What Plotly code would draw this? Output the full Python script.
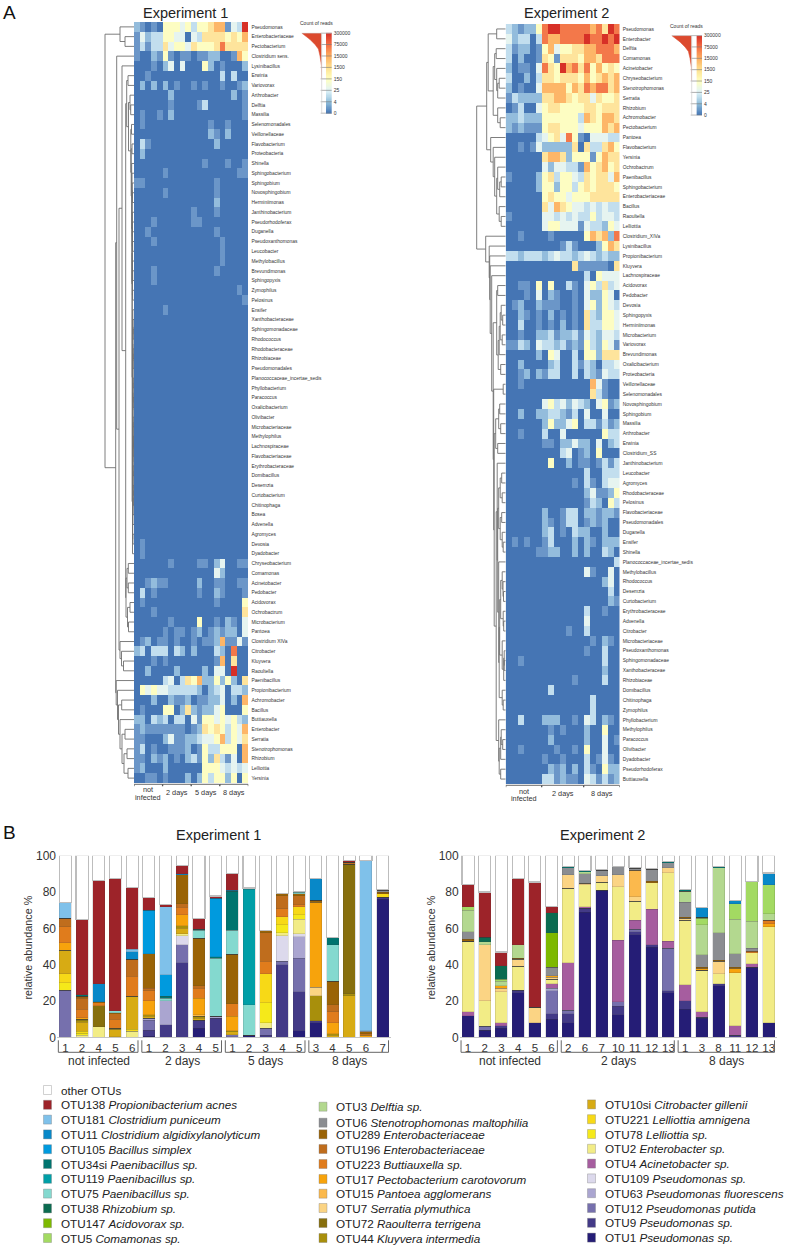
import plotly.graph_objects as go

W, H = 787, 1246
FONT = "Liberation Sans"

# ---------- heat map A: labels and colour levels (0 = no reads ... 9 = most reads) ----------
E1_LABELS = ["Pseudomonas","Enterobacteriaceae","Pectobacterium","Clostridium sens.","Lysinibacillus","Erwinia","Variovorax","Arthrobacter","Delftia","Massilia",
"Selenomonadales","Veillonellaceae","Flavobacterium","Proteobacteria","Shinella","Sphingobacterium","Sphingobium","Novosphingobium","Herminiimonas","Janthinobacterium",
"Pseudorhodoferax","Duganella","Pseudoxanthomonas","Leucobacter","Methylobacillus","Brevundimonas","Sphingopyxis","Zymophilus","Pelosinus","Ensifer",
"Xanthobacteraceae","Sphingomonadaceae","Rhodococcus","Rhodobacteraceae","Rhizobiaceae","Pseudomonadales","Planococcaceae_incertae_sedis","Phyllobacterium","Paracoccus","Oxalicibacterium",
"Olivibacter","Microbacteriaceae","Methylophilus","Lachnospiraceae","Flavobacteriaceae","Erythrobacteraceae","Domibacillus","Desemzia","Curtobacterium","Chitinophaga",
"Bosea","Advenella","Agromyces","Devosia","Dyadobacter","Chryseobacterium","Comamonas","Acinetobacter","Pedobacter","Acidovorax",
"Ochrobactrum","Microbacterium","Pantoea","Clostridium XIVa","Citrobacter","Kluyvera","Raoultella","Paenibacillus","Propionibacterium","Achromobacter",
"Bacillus","Buttiauxella","Enterobacter","Serratia","Stenotrophomonas","Rhizobium","Lelliottia","Yersinia"]

E1_LEVELS = ["21010 55545 35567 71439","14233 55440 43666 65657","13133 64554 65556 86666","10021 51011 01122 00175","00010 24040 00520 10002",
"00100 00000 00000 30300","02020 20100 10100 10012","00000 02000 00000 00201","00000 01000 01300 00001","01001 02000 00000 00001",
"01000 00000 00010 01000","00000 00000 00021 02000","03100 00000 00002 00000","02000 00000 00000 00000","00000 00000 00100 01001",
"00000 10000 00000 00011","11000 00000 00001 00000","00000 10000 00001 00000","00000 00000 00002 00000","00000 00000 10001 00000",
"00010 00000 11000 00000","00100 00000 00001 00000","00010 00000 00000 10000","00000 00000 00000 10000","00000 00000 00000 10000",
"00010 00000 00001 00000","00010 00000 00000 00000","00000 00000 00000 00010","00000 00000 00000 00001","00000 10000 00000 00000",
"00000 00000 00000 00000","00000 00000 00000 00000","00000 00000 00000 00000","00000 00000 00000 00000","00000 00000 00000 00000",
"00000 00000 00000 00000","00000 00000 00000 00000","00000 00000 00000 00000","00000 00000 00000 00000","00000 00000 00000 00000",
"00000 00000 00000 00000","00000 00000 00000 00000","00000 00000 00000 00000","00000 00000 00000 00000","00000 00000 00000 00000",
"00000 00000 00000 00000","00000 00000 00000 00000","00000 00000 00000 00000","00000 00000 00000 00000","00000 00000 00000 00000",
"00000 00000 00000 00000","00000 00000 00000 00000","00000 00000 00000 00000","01000 00000 00000 00000","01000 00000 00000 00000",
"00000 01000 01102 40011","00000 00000 00004 20000","00121 10000 02001 10011","03010 00000 01002 10001","01000 00000 00001 00005",
"00010 00000 00000 00006","00000 01000 05001 02104","00000 10110 12012 12204","01201 10100 10112 71141","23033 30320 20003 20800",
"00010 10000 00001 70600","00200 00200 00204 40900","00000 34036 57225 25206","05454 43333 32023 40332","00020 02112 01122 40207",
"01000 55026 21224 50005","22032 30330 41554 54532","12111 11110 12656 53547","11000 24112 23445 73546","13010 01112 01533 55507",
"11021 20102 31526 31407","12000 20000 00555 43434","00110 10002 02535 52505"]

E2_LABELS = ["Pseudomonas","Enterobacter","Delftia","Comamonas","Acinetobacter","Chryseobacterium","Stenotrophomonas","Serratia","Rhizobium","Achromobacter",
"Pectobacterium","Pantoea","Flavobacterium","Yersinia","Ochrobactrum","Paenibacillus","Sphingobacterium","Enterobacteriaceae","Bacillus","Raoultella",
"Lelliottia","Clostridium_XIVa","Lysinibacillus","Propionibacterium","Kluyvera","Lachnospiraceae","Acidovorax","Pedobacter","Devosia","Sphingopyxis",
"Herminiimonas","Microbacterium","Variovorax","Brevundimonas","Oxalicibacterium","Proteobacteria","Veillonellaceae","Selenomonadales","Novosphingobium","Sphingobium",
"Massilia","Arthrobacter","Erwinia","Clostridium_SS","Janthinobacterium","Leucobacter","Agromyces","Rhodobacteraceae","Pelosinus","Flavobacteriaceae",
"Pseudomonadales","Duganella","Ensifer","Shinella","Planococcaceae_incertae_sedis","Methylobacillus","Rhodococcus","Desemzia","Curtobacterium","Erythrobacteraceae",
"Advenella","Citrobacter","Microbacteriaceae","Pseudoxanthomonas","Sphingomonadaceae","Xanthobacteraceae","Rhizobiaceae","Domibacillus","Chitinophaga","Zymophilus",
"Phyllobacterium","Methylophilus","Paracoccus","Olivibacter","Dyadobacter","Pseudorhodoferax","Buttiauxella"]

E2_LEVELS = ["32122 58998 88887 8698","42330 38778 88898 8989","31220 15745 56677 8887","30200 16516 66577 6888","20110 48659 78685 7565",
"30020 36656 66575 6767","20100 47777 57687 8867","13222 26677 65664 6556","01300 45665 55566 5666","22322 25555 55376 5776",
"21211 15665 55455 5767","00000 34564 85104 4433","00101 42222 26063 3675","00000 06776 25551 5766","00000 04244 33175 6756",
"10000 25635 54365 6647","00000 25525 53565 6665","00000 05655 45556 6666","00000 06476 54434 3433","10000 04434 34335 3443",
"00000 04554 44143 3254","00100 00100 00057 6728","00000 00001 31000 2576","33233 32343 32343 2322","00000 00000 06111 1106",
"00000 00000 00030 5444","00110 50500 31045 3634","00010 40210 01042 2540","01200 21110 01045 2543","00210 10201 01063 2554",
"00300 10102 01063 3554","00100 22312 23143 2443","11320 43323 12153 2541","00000 20540 03055 2666","00200 00230 03132 0334",
"00120 21330 03032 1433","00100 00000 00007 4100","00000 00000 00006 3100","00000 04534 24320 4512","00200 22332 13040 0400",
"00000 02522 45033 1312","00100 03004 00000 0533","00000 01102 24220 4023","00000 00003 40120 5000","00000 00500 20110 1313",
"00000 00000 00030 0333","00000 00000 01031 0344","00000 00000 00024 1125","00000 00000 00013 2053","00000 02001 33022 1221",
"00000 02101 33012 1200","00000 02301 03220 0200","01010 01300 02021 0222","00000 11220 02020 0320","00000 00000 00000 0003",
"00000 00000 00041 0040","00000 00000 00000 0240","00000 00000 00000 0030","00000 00000 00000 0021","00000 00000 00030 0100",
"00000 00000 00040 0000","00000 00000 10030 0000","00000 00000 00001 0210","00000 00000 00010 0300","00100 00000 00000 0300",
"00000 00000 00000 0200","00000 00000 01000 0300","00000 00300 00000 0000","00000 00000 00003 0000","00000 00000 00003 0000",
"00300 02220 01043 0210","00000 00101 00020 0500","00000 00200 00020 0401","00100 00010 01050 0400","00000 01001 00030 1410",
"00000 00212 02031 0522","00000 03312 11043 1312"]

# merge height of each pair of neighbouring rows in the clustering trees
E1_TREE = [14,9,29,17.3,12,6,7.3,4,3.3,5.5, 2.5,3.2,2,2.8,2.3,2.1,1.8,1.6,1.9,1.7, 1.5,1.7,1.4,1.8,1.5,1.3,1.6,1.4,1.9,1.2,
           1,.9,1.1,.9,1,1.2,.8,1,.9,1.1, .9,1,.8,.9,1.1,.9,1,.8,.9,1, 1.2,1.3,1.1,1.5,8.3,5.7,7,5.7,8,4,
           6.5,5.5,15,14,12.5,10.5,18.3,17.8,16.5,12.3, 15.5,14,9,12,7,10,6]
E2_TREE = [9,17.5,9.5,11,9,6.5,8,12.5,8,5.5, 19,15,12.5,11,8,4.5,6,9,6.5,4.5, 29,20,16.5,16,15.5,14,8,9,4.5,3,
           5.5,3.5,6.5,7.5,5,12.5,2.5,12,6,7, 5,10,8,11.5,8.5,4,5.5,3.5,7,4, 5.5,3.5,2.5,8,7,3.5,2.7,2.2,5,2.5,
           2,6,3.5,1.5,1.5,2,6.5,3.5,2.5,9.5, 7,4.5,3,5,6.5,5]

HEAT_GROUPS_1 = [("not<br>infected", 5), ("2 days", 5), ("5 days", 5), ("8 days", 5)]
HEAT_GROUPS_2 = [("not<br>infected", 6), ("2 days", 7), ("8 days", 6)]

LEVEL_COLORS = ["#4575b4","#6b96c8","#93bcdc","#c2deee","#e6f4f0","#fdfdc2","#fee49c","#fdb668","#f3784a","#d73027"]

COUNT_LABELS = ["0","4","25","150","1500","15000","75000","300000"]
COUNT_RAMP = ["#4575b4","#91bfdb","#e0f3f8","#ffffbf","#fee090","#fdae61","#f46d43","#d73027"]
COUNT_SHAPE_LEVEL = [3, 4.2, 5.0, 5.6, 6.0, 6.44, 7]
COUNT_SHAPE_WIDTH = [0, 0.3, 1.7, 3.3, 6.7, 11.7, 20]

# ---------- stacked bars B ----------
OTU_KEYS = ["1","9","12","63","109","4","2","78","221","10si","44","72","7","15","17","223","196","289","6","3","5","147","38","75","119","34si","105","11","181","138","other"]
OTU_COLORS = ["#251d76","#433a87","#7670ad","#aaa5d0","#dcd9ec","#a65d9f","#f2ec86","#f5e91a","#f7d917","#d7ab14","#a88f0c","#876f0d","#fbd484","#fbb94d","#f7a30c","#e07c1c","#bf6d1d","#9a6306","#8b8d91","#b3d88f","#a3da62","#7db900","#0b6b50","#84d9cf","#009fa7","#00746f","#009ade","#0888c8","#7fc1ea","#9d2329","#ffffff"]
OTU_NAMES = {"138":"Propionibacterium acnes","181":"Clostridium puniceum","11":"Clostridium algidixylanolyticum","105":"Bacillus simplex","34si":"Paenibacillus sp.","119":"Paenibacillus sp.","75":"Paenibacillus sp.","38":"Rhizobium sp.","147":"Acidovorax sp.","5":"Comamonas sp.",
"3":"Delftia sp.","6":"Stenotrophomonas maltophilia","289":"Enterobacteriaceae","196":"Enterobacteriaceae","223":"Buttiauxella sp.","17":"Pectobacterium carotovorum","15":"Pantoea agglomerans","7":"Serratia plymuthica","72":"Raoulterra terrigena","44":"Kluyvera intermedia",
"10si":"Citrobacter gillenii","221":"Lelliottia amnigena","78":"Lelliottia sp.","2":"Enterobacter sp.","4":"Acinetobacter sp.","109":"Pseudomonas sp.","63":"Pseudomonas fluorescens","12":"Pseudomonas putida","9":"Pseudomonas sp.","1":"Pseudomonas sp."}
LEGEND_COL1 = ["other","138","181","11","105","34si","119","75","38","147","5"]
LEGEND_COL2 = ["3","6","289","196","223","17","15","7","72","44"]
LEGEND_COL3 = ["10si","221","78","2","4","109","63","12","9","1"]

E1_SAMPLES = ["1","2","4","5","6","1","2","3","4","5","1","2","3","4","5","3","4","5","6","7"]
E1_GROUPS = [("not infected",5),("2 days",5),("5 days",5),("8 days",5)]
# each sample: (OTU, top of its segment in %), bottom to top
E1_TOPS = [
 [("12",26),("78",30),("221",35),("10si",48),("17",52),("223",61),("196",65.5),("181",74)],
 [("44",1.2),("2",2.2),("78",3.3),("221",4.4),("10si",9.5),("72",10),("17",10.8),("223",15.5),("196",21.5),("289",22.5),("34si",23.5),("138",65)],
 [("2",5.8),("72",17.5),("223",19),("289",19.5),("11",29.5),("138",86.5)],
 [("1",.3),("10si",4.5),("72",5),("223",10),("196",13),("289",13.5),("75",14.5),("138",87.3)],
 [("2",3.2),("221",4.5),("10si",22.5),("223",33.5),("196",43),("11",47),("181",48.5),("138",82.5)],
 [("1",.7),("9",4),("12",9.5),("63",10.5),("10si",11.5),("44",12.5),("17",20),("223",25.5),("196",27),("289",46),("105",70),("138",77)],
 [("9",6.8),("63",20.2),("75",21.5),("34si",22.5),("105",34.5),("181",72),("138",73.2)],
 [("9",41),("12",51),("109",56),("2",57),("10si",60),("44",61.5),("17",67.5),("223",71.5),("196",73.5),("289",89.5),("11",90),("138",94.5)],
 [("1",5),("9",9.5),("10si",10.5),("44",11.5),("15",12.5),("17",21.5),("223",27),("196",28.5),("289",54.5),("75",59),("34si",59.5),("138",65.5)],
 [("9",10.5),("63",11.7),("75",43.5),("34si",44.3),("105",76.5),("138",77.8)],
 [("9",.3),("12",1.5),("10si",3),("44",3.5),("17",11.5),("223",18.5),("289",45.8),("75",59),("34si",80.5),("11",81),("138",90.2)],
 [("1",1),("75",18),("119",81.5),("34si",82.2)],
 [("9",1),("12",5),("2",8),("78",19),("221",35),("223",42),("196",57.5),("289",58.7)],
 [("9",40),("12",42),("109",56),("2",57.5),("78",62),("221",66.5),("223",70.7),("196",78),("289",79)],
 [("1",3.5),("9",25),("12",43.5),("63",55.5),("109",57),("2",65),("78",67.5),("221",72),("223",73),("196",78),("289",79),("75",80),("34si",80.5)],
 [("1",8),("9",9),("44",23),("7",27.5),("17",74.5),("289",75.5),("11",87.5)],
 [("44",1),("10si",2),("17",8),("223",14),("196",18),("289",31),("75",51),("34si",55)],
 [("10si",23),("44",24),("72",95.3),("196",96.5),("138",97.2)],
 [("17",1),("196",2),("289",3),("181",97),("6",97.5)],
 [("1",76),("9",77),("221",79),("289",80),("6",81),("34si",81.5)],
]

E2_SAMPLES = ["1","2","3","4","5","6","2","6","7","10","11","12","13","1","3","8","11","12","13"]
E2_GROUPS = [("not infected",6),("2 days",7),("8 days",6)]
E2_TOPS = [
 [("1",12),("4",14),("2",53),("289",54),("6",58),("3",70),("5",72),("138",84)],
 [("1",4),("12",6),("2",20),("7",51),("3",52.5),("38",55),("138",80)],
 [("1",5),("9",6.5),("4",8),("2",25),("7",27),("17",28.5),("3",31),("5",32),("38",39.5),("138",47)],
 [("1",24.5),("9",26),("2",39),("7",43),("289",43.5),("3",51),("138",87.5)],
 [("1",8),("7",16.5),("138",85.5)],
 [("1",10),("9",13),("12",25.5),("63",27),("4",29.5),("2",32),("7",33),("17",34),("6",38.5),("147",57.5),("38",68.5),("138",72)],
 [("1",8),("9",13),("12",15),("4",41),("2",82),("7",89.5),("6",93.5),("34si",94)],
 [("1",69),("9",71),("4",72),("2",84),("7",84.7),("6",90),("3",91.2),("34si",92)],
 [("1",81),("2",85.5),("7",89),("6",92),("34si",92.5)],
 [("1",12.5),("9",17),("12",19.5),("4",53.5),("2",83),("7",89.5),("6",94)],
 [("1",56.5),("9",58),("12",59.5),("4",64.5),("2",75),("7",77.5),("15",92),("6",93),("34si",93.5)],
 [("1",49.5),("9",51),("4",70.5),("2",85),("289",86),("6",92.5),("34si",93)],
 [("1",24.5),("9",25.5),("12",49),("4",53),("2",90.5),("7",93.5),("6",96),("34si",97)],
 [("1",15.5),("9",20),("4",29),("2",64.5),("7",65.5),("289",66),("6",74.5),("3",80.5),("34si",81.5)],
 [("1",10.5),("9",11),("4",14),("2",37),("17",38),("289",38.5),("6",45.5),("3",62),("5",65.5),("38",66),("11",71.5)],
 [("1",28.5),("9",29.5),("2",35),("7",42),("289",42.5),("6",57.5),("3",93.5),("34si",94)],
 [("9",1),("4",6.5),("2",35.5),("17",38),("289",38.5),("6",46),("3",65),("5",73.5),("11",75.5)],
 [("1",38.5),("4",40.5),("2",46.5),("223",47.5),("6",49),("3",64),("5",86)],
 [("1",8),("2",61),("17",62.5),("223",64.5),("3",68),("5",84),("11",90.5)],
]


# ---------- helpers ----------
def xdom(a, b):
    return [a / W, b / W]

def ydom(top, bottom):
    return [1 - bottom / H, 1 - top / H]

def fx(x):
    return x / W

def fy(y):
    return 1 - y / H

annotations, shapes = [], []

def text(x, y, s, size, anchor="center", color="#222222", angle=0):
    annotations.append(dict(x=fx(x), y=fy(y), xref="paper", yref="paper", text=s, showarrow=False,
                            xanchor=anchor, yanchor="middle", textangle=angle, align="center",
                            font=dict(family=FONT, size=size, color=color)))

def parse_levels(rows):
    return [[int(c) for c in r.replace(" ", "")] for r in rows]

def tree_lines(gaps, n):
    xs, ys = [], []
    def build(lo, hi):
        if lo == hi:
            return lo, 0.0
        k = max(range(lo, hi), key=lambda i: gaps[i])
        y1, d1 = build(lo, k)
        y2, d2 = build(k + 1, hi)
        h = gaps[k]
        xs.extend([d1, h, h, d2, None])
        ys.extend([y1, y1, y2, y2, None])
        return (y1 + y2) / 2, h
    build(0, n - 1)
    return xs, ys

def to_series(tops):
    series = {k: [0.0] * len(tops) for k in OTU_KEYS}
    for i, sample in enumerate(tops):
        prev = 0.0
        for otu, top in sample:
            series[otu][i] += top - prev
            prev = top
        series["other"][i] = 100 - prev
    return series

STEPPED = []
for i, c in enumerate(LEVEL_COLORS):
    STEPPED += [[i / 10, c], [(i + 1) / 10, c]]
RAMP = [[i / 7, c] for i, c in enumerate(COUNT_RAMP)]

fig = go.Figure()
layout_axes = {}


def add_heat(ax, labels, levels, tree, left, right, top, bottom, groups):
    n = len(labels)
    a, b = ax
    sx = "" if a == 1 else str(a)
    xname, yname = "x" + sx, "y" + sx
    z = parse_levels(levels)
    fig.add_trace(go.Heatmap(z=z, x=list(range(len(z[0]))), y=list(range(n)), colorscale=STEPPED, zmin=-0.5, zmax=9.5,
                             showscale=False, hoverinfo="skip", xaxis=xname, yaxis=yname))
    layout_axes["xaxis" + sx] = dict(domain=xdom(left, right), range=[-0.5, len(z[0]) - 0.5], visible=False, anchor=yname)
    layout_axes["yaxis" + sx] = dict(domain=ydom(top, bottom), range=[n - 0.5, -0.5], side="right", anchor=xname,
                                     tickmode="array", tickvals=list(range(n)), ticktext=labels, ticks="", showgrid=False,
                                     zeroline=False, showline=False, ticklabelstandoff=2,
                                     tickfont=dict(family=FONT, size=4.9, color="#333333"))
    xs, ys = tree_lines(tree, n)
    fig.add_trace(go.Scatter(x=xs, y=ys, mode="lines", line=dict(color="#6f6f6f", width=0.9), hoverinfo="skip",
                             xaxis="x" + str(b), yaxis=yname, showlegend=False))
    layout_axes["xaxis" + str(b)] = dict(domain=xdom(left - 30, left), range=[30, 0], visible=False, anchor=yname)
    pos = -0.5
    for name, cnt in groups:
        x0, x1 = pos + 0.03, pos + cnt - 0.03
        shapes.append(dict(type="line", xref=xname, yref="paper", x0=x0, x1=x1, y0=fy(bottom + 1.3), y1=fy(bottom + 1.3), line=dict(color="#444444", width=0.8)))
        for xv in (x0, x1):
            shapes.append(dict(type="line", xref=xname, yref="paper", x0=xv, x1=xv, y0=fy(bottom + 1.3), y1=fy(bottom + 3.2), line=dict(color="#444444", width=0.8)))
        cx = left + (pos + cnt / 2 + 0.5) * (right - left) / len(z[0])
        if "<br>" in name:
            l1, l2 = name.split("<br>")
            text(cx, bottom + 7, l1, 7.3, color="#333333")
            text(cx, bottom + 14.5, l2, 7.3, color="#333333")
        else:
            text(cx, bottom + 9, name, 7.3, color="#333333")
        pos += cnt


def add_count_legend(a, b, x_strip0, x_strip1, x_shape0, x_shape1, top, bottom):
    sa = str(a)
    levels = [i / 20 for i in range(0, 141)]
    fig.add_trace(go.Heatmap(z=[[v] for v in levels], x=[0], y=levels, colorscale=RAMP, zmin=0, zmax=7, showscale=False,
                             hoverinfo="skip", xaxis="x" + sa, yaxis="y" + sa))
    layout_axes["xaxis" + sa] = dict(domain=xdom(x_strip0, x_strip1), range=[-0.5, 0.5], visible=False, anchor="y" + sa)
    layout_axes["yaxis" + sa] = dict(domain=ydom(top, bottom), range=[-0.05, 7.05], side="right", anchor="x" + sa,
                                     tickmode="array", tickvals=list(range(8)), ticktext=COUNT_LABELS, ticks="",
                                     showgrid=False, zeroline=False, ticklabelstandoff=1,
                                     tickfont=dict(family=FONT, size=5, color="#333333"))
    fig.add_trace(go.Scatter(x=COUNT_SHAPE_WIDTH, y=COUNT_SHAPE_LEVEL, mode="lines", line=dict(color="#dc4a2e", width=0.5),
                             fill="tozerox", fillcolor="#dc4a2e", hoverinfo="skip", xaxis="x" + str(b), yaxis="y" + sa, showlegend=False))
    layout_axes["xaxis" + str(b)] = dict(domain=xdom(x_shape0, x_shape1), range=[20, 0], visible=False, anchor="y" + sa)
    for lv in range(8):
        shapes.append(dict(type="line", xref="paper", yref="y" + sa, x0=fx(x_shape1 - 1), x1=fx(x_strip1), y0=lv, y1=lv,
                           line=dict(color="#777777", width=0.6)))
    shapes.append(dict(type="line", xref="paper", yref="y" + sa, x0=fx(x_shape1), x1=fx(x_shape1), y0=0, y1=7,
                       line=dict(color="#cfcfcf", width=0.7)))
    shapes.append(dict(type="line", xref="paper", yref="y" + sa, x0=fx(x_shape0), x1=fx(x_strip1), y0=7, y1=7,
                       line=dict(color="#c8c8c8", width=0.7)))
    text((x_shape0 + x_strip1 + 10) / 2 - 5, top - 9, "Count of reads", 5, color="#333333")


def add_bars(a, tops, samples, groups, left, right, top, bottom, ylabel_x):
    sa = str(a)
    series = to_series(tops)
    xv = list(range(len(samples)))
    for key, color in zip(OTU_KEYS, OTU_COLORS):
        if key == "other":
            line = dict(color="#bdbdbd", width=1.1)
        else:
            line = dict(color="rgba(60,60,60,0.3)", width=0.5)
        fig.add_trace(go.Bar(x=xv, y=series[key], marker=dict(color=color, line=line), name=key, showlegend=False,
                             hoverinfo="skip", xaxis="x" + sa, yaxis="y" + sa))
    layout_axes["xaxis" + sa] = dict(domain=xdom(left, right), range=[-0.5, len(samples) - 0.5], anchor="y" + sa,
                                     tickmode="array", tickvals=xv, ticktext=samples, ticks="", showgrid=False, zeroline=False,
                                     showline=True, linecolor="#c4c4c4", linewidth=1, ticklabelstandoff=0,
                                     tickfont=dict(family=FONT, size=11.5, color="#333333"))
    layout_axes["yaxis" + sa] = dict(domain=ydom(top, bottom), range=[0, 100], anchor="x" + sa, tickmode="array",
                                     tickvals=[0, 20, 40, 60, 80, 100], ticks="", showgrid=False, zeroline=False, showline=False,
                                     tickfont=dict(family=FONT, size=12, color="#333333"))
    text(ylabel_x, (top + bottom) / 2 + 1, "relative abundance %", 10.8, color="#333333", angle=-90)
    pos = -0.5
    step = (right - left) / len(samples)
    for name, cnt in groups:
        x0, x1 = pos + 0.08, pos + cnt - 0.15
        c = "#666666"
        shapes.append(dict(type="line", xref="x" + sa, yref="paper", x0=x0, x1=x1, y0=fy(bottom + 15), y1=fy(bottom + 15), line=dict(color=c, width=1)))
        for v in (x0, x1):
            shapes.append(dict(type="line", xref="x" + sa, yref="paper", x0=v, x1=v, y0=fy(bottom + 3), y1=fy(bottom + 15), line=dict(color=c, width=1)))
        text(left + (pos + 0.5 + cnt / 2) * step, bottom + 24, name, 12, color="#333333")
        pos += cnt


# ---------- build ----------
add_heat([1, 2], E1_LABELS, E1_LEVELS, E1_TREE, 134, 248.4, 22, 783, HEAT_GROUPS_1)
add_heat([3, 4], E2_LABELS, E2_LEVELS, E2_TREE, 505.7, 619.7, 24, 784, HEAT_GROUPS_2)
add_bars(5, E1_TOPS, E1_SAMPLES, E1_GROUPS, 57, 391, 855.7, 1037.3, 27)
add_bars(6, E2_TOPS, E2_SAMPLES, E2_GROUPS, 459.7, 777, 855.7, 1037.3, 430)
add_count_legend(7, 8, 326, 331.7, 301.7, 321.7, 32.5, 113.8)
add_count_legend(9, 10, 696.4, 702, 671.7, 691.7, 35, 115.7)

text(185, 13, "Experiment 1", 14.5)
text(566, 13, "Experiment 2", 14.5)
text(218, 835, "Experiment 1", 14.5)
text(602, 835, "Experiment 2", 14.5)
text(9, 13, "A", 19, color="#111111")
text(9, 832, "B", 19, color="#111111")

COLOR_OF = dict(zip(OTU_KEYS, OTU_COLORS))

def legend_row(key, x, y):
    border = "#bdbdbd" if key == "other" else "rgba(120,120,120,0.5)"
    shapes.append(dict(type="rect", xref="paper", yref="paper", x0=fx(x), x1=fx(x + 8), y0=fy(y - 4.5), y1=fy(y + 4.5),
                       fillcolor=COLOR_OF[key], line=dict(color=border, width=0.7)))
    label = "other OTUs" if key == "other" else "OTU%s <i>%s</i>" % (key, OTU_NAMES[key])
    text(x + 15, y, label, 11.7, anchor="left", color="#222222")

for i, key in enumerate(LEGEND_COL1):
    legend_row(key, 43.5, 1090 + i * 14.8)
COL2_Y = [1106.7, 1122.7, 1134.3, 1149, 1164, 1179, 1193.7, 1208, 1223, 1238]
for key, y in zip(LEGEND_COL2, COL2_Y):
    legend_row(key, 319, y)
for i, key in enumerate(LEGEND_COL3):
    legend_row(key, 587.5, 1104.4 + i * 14.8)

fig.update_layout(width=W, height=H, margin=dict(l=0, r=0, t=0, b=0, pad=0, autoexpand=False), autosize=False, paper_bgcolor="white", plot_bgcolor="white",
                  barmode="stack", bargap=0.28, showlegend=False, annotations=annotations, shapes=shapes,
                  font=dict(family=FONT), **layout_axes)
fig.write_html("out.html", config=dict(displayModeBar=False),
               post_script="document.body.style.margin='0';document.documentElement.style.overflow='hidden';")
